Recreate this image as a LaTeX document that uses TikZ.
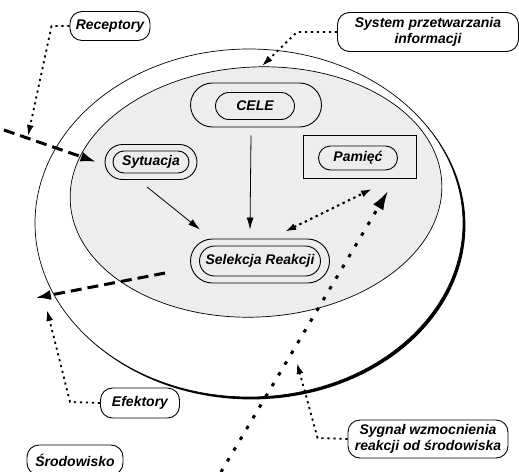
\documentclass[tikz,border=0pt]{standalone}
\usepackage{fontspec}
\setmainfont{Liberation Sans}
\usetikzlibrary{arrows.meta,shapes.misc}
\begin{document}
\begin{tikzpicture}[x=1pt,y=-1pt,
  lbl/.style={font=\fontsize{14}{15.5}\selectfont\bfseries\itshape, align=center, inner sep=0pt},
  tag/.style={lbl, draw, line width=0.9pt, rounded corners=12pt},
  pill/.style={lbl, draw, line width=0.9pt, rounded rectangle},
  plain/.style={draw, line width=0.8pt, -{Latex[length=12pt,width=7pt]}},
  pointer/.style={draw, line width=1.8pt, dash pattern=on 2.2pt off 3.8pt, -{Latex[length=11pt,width=7pt]}},
  feedback/.style={draw, line width=3pt, dash pattern=on 3.5pt off 9pt, -{Latex[length=19pt,width=12pt]}},
  memlink/.style={draw, line width=2pt, dash pattern=on 2.5pt off 3.5pt, {Latex[length=11pt,width=7pt]}-{Latex[length=11pt,width=7pt]}},
  flow/.style={draw, line width=3pt, dash pattern=on 11pt off 6pt, -{Latex[length=16pt,width=10pt]}}
]
\useasboundingbox (0,0) rectangle (519,471);
\clip (0,0) rectangle (519,471);

% environment ellipse with a shadowed lower-right rim
\fill (251.4,225.4) ellipse [x radius=214, y radius=174];
\filldraw[fill=white, line width=0.7pt] (249,223) ellipse [x radius=214, y radius=174];

% information processing system
\filldraw[fill=black!7, line width=0.7pt, rotate around={3:(256,192)}]
  (256,192) ellipse [x radius=186, y radius=125];

% inner modules
\node[pill, minimum width=131pt, minimum height=44pt] (cele) at (256,105) {};
\node[pill, minimum width=79pt, minimum height=27pt] (celeIn) at (255,106) {CELE};

\node[pill, minimum width=92pt, minimum height=35pt] (syt) at (151,162) {};
\node[pill, minimum width=76pt, minimum height=22pt] (sytIn) at (151,162) {Sytuacja};

\node[draw, line width=0.9pt, minimum width=113pt, minimum height=43pt, inner sep=0pt] (pam) at (360,157) {};
\node[pill, minimum width=79pt, minimum height=24pt] (pamIn) at (358,158) {Pamięć};

\node[pill, minimum width=139pt, minimum height=44pt] (sel) at (260,261) {};
\node[pill, minimum width=121pt, minimum height=30pt] (selIn) at (260,261) {Selekcja Reakcji};

% outer labels
\node[tag, minimum width=80pt, minimum height=29pt] (rec) at (110,26) {Receptory};
\node[tag, minimum width=181pt, minimum height=39pt] (sys) at (428,32) {System przetwarzania\\informacji};
\node[tag, minimum width=79pt, minimum height=30pt] (efe) at (140,403) {Efektory};
\node[tag, minimum width=160pt, minimum height=38pt] (syg) at (428,439) {Sygnał wzmocnienia\\reakcji od środowiska};
\node[tag, minimum width=96pt, minimum height=30pt] (sro) at (75,460) {Środowisko};

% free ends of the flows
\coordinate (inStart) at (4,130);
\coordinate (outEnd) at (35,298);
\coordinate (sigStart) at (221,472);
\coordinate (recTip) at (28,136);
\coordinate (sysTip) at (262,66);
\coordinate (efeTip) at (47,310);
\coordinate (sygTip) at (297,363);

% internal arrows
\draw[plain] ([shift={(-5,8)}]cele.south) -- ([shift={(-10,-9)}]sel.north);
\draw[plain] ([shift={(-4,7)}]syt.south) -- ([shift={(-60,-9)}]sel.north);
\draw[memlink] ([shift={(25,-7)}]sel.north) -- ([shift={(12,10)}]pam.south);

% stimulus in, reaction out
\draw[flow] (inStart) -- ([xshift=-8pt]syt.west);
\draw[flow] ([shift={(-25,12)}]sel.west) -- (outEnd);

% reinforcement signal
\draw[feedback] (sigStart) -- ([shift={(28,12)}]pam.south);

% label pointers
\draw[pointer] (rec.west) -- ++(-18,0) -- (recTip);
\draw[pointer] (sys.west) -- ++(-40,0) -- (sysTip);
\draw[pointer] (efe.west) -- ++(-30,-1) -- (efeTip);
\draw[pointer] (syg.west) -- ++(-30,-1) -- (sygTip);
\end{tikzpicture}
\end{document}
